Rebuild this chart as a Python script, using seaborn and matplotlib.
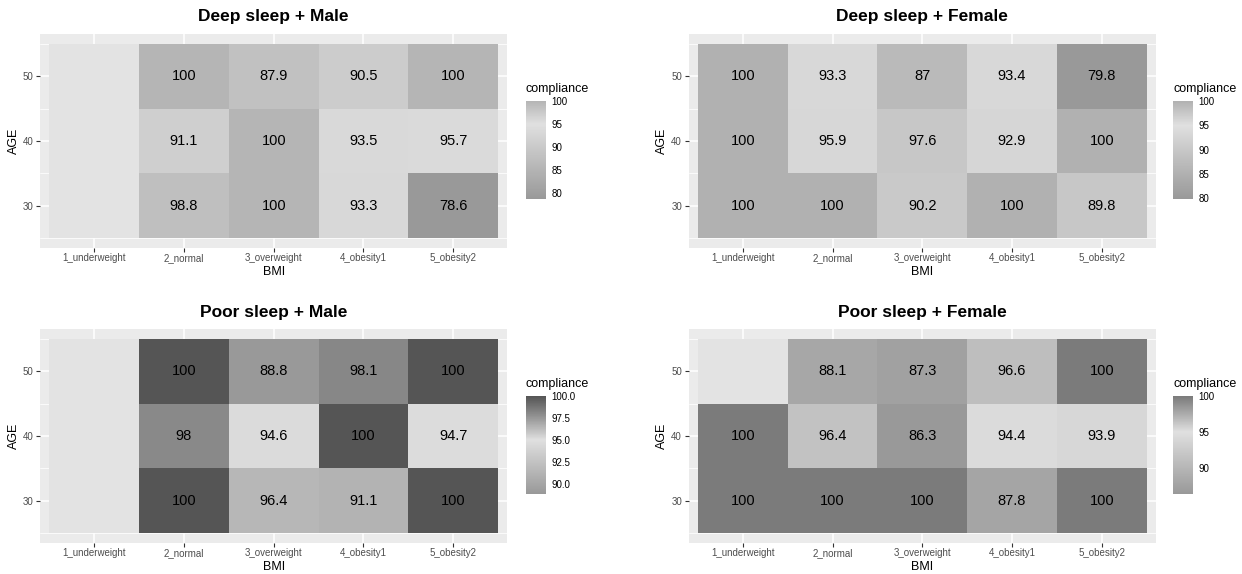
import numpy as np
import pandas as pd
import matplotlib
matplotlib.use('Agg')
import matplotlib.pyplot as plt
import seaborn as sns
from matplotlib.colors import ListedColormap

# ---------------- data ----------------
bmi_levels = ['1_underweight', '2_normal', '3_overweight', '4_obesity1', '5_obesity2']
age_levels = [50, 40, 30]
nan = np.nan

deep_male = [[nan, 100, 87.9, 90.5, 100],
             [nan, 91.1, 100, 93.5, 95.7],
             [nan, 98.8, 100, 93.3, 78.6]]
deep_female = [[100, 93.3, 87, 93.4, 79.8],
               [100, 95.9, 97.6, 92.9, 100],
               [100, 100, 90.2, 100, 89.8]]
poor_male = [[nan, 100, 88.8, 98.1, 100],
             [nan, 98, 94.6, 100, 94.7],
             [nan, 100, 96.4, 91.1, 100]]
poor_female = [[nan, 88.1, 87.3, 96.6, 100],
               [100, 96.4, 86.3, 94.4, 93.9],
               [100, 100, 100, 87.8, 100]]

titles = ['Deep sleep + Male', 'Deep sleep + Female', 'Poor sleep + Male', 'Poor sleep + Female']

ticks_deep_male = [80, 85, 90, 95, 100]
labels_deep_male = ['80', '85', '90', '95', '100']
ticks_deep_female = [80, 85, 90, 95, 100]
labels_deep_female = ['80', '85', '90', '95', '100']
ticks_poor_male = [90, 92.5, 95, 97.5, 100]
labels_poor_male = ['90.0', '92.5', '95.0', '97.5', '100.0']
ticks_poor_female = [90, 95, 100]
labels_poor_female = ['90', '95', '100']

# ---------------- style ----------------
sns.set_theme(style='white')
plt.rcParams['font.family'] = ['Liberation Sans', 'DejaVu Sans']

W, H = 1242, 574
fig = plt.figure(figsize=(W / 100, H / 100), dpi=100)


def fx(px):
    return px / W


def fy(py):
    return 1 - py / H


def srgb_to_L(v):
    c = v / 255.0
    lin = ((c + 0.055) / 1.055) ** 2.4 if c > 0.04045 else c / 12.92
    return 116 * lin ** (1 / 3) - 16 if lin > 0.008856 else 903.3 * lin


def L_to_srgb(L):
    lin = ((L + 16) / 116) ** 3 if L > 8 else L / 903.3
    c = 1.055 * lin ** (1 / 2.4) - 0.055 if lin > 0.0031308 else 12.92 * lin
    return min(max(c, 0.0), 1.0)


LOW, MID = 0x99, 0xE0
HIGH_DEEP, HIGH_POOR = 0x59, 0x38
MIDPOINT = 95.0
NA_COLOR = '#e3e3e3'
PANEL_BG = '#ebebeb'


def gradient2_cmap(vmin, vmax, high, n=256):
    Ll, Lm, Lh = srgb_to_L(LOW), srgb_to_L(MID), srgb_to_L(high)
    r = max(vmax - MIDPOINT, MIDPOINT - vmin)
    cols = []
    for x in np.linspace(vmin, vmax, n):
        p = 0.5 + (x - MIDPOINT) / (2 * r)
        if p < 0.5:
            t = (0.5 - p) / 0.5
            L = Lm + (Ll - Lm) * t
        else:
            t = (p - 0.5) / 0.5
            L = Lm + (Lh - Lm) * t
        g = L_to_srgb(L)
        cols.append((g, g, g))
    return ListedColormap(cols)


PW, PH = 466.6, 214.0
CBW, CBH = 20.0, 98.0


def draw_panel(vals, title, ticks, ticklabels, high, left, top, cb_left, cb_top, age_x):
    df = pd.DataFrame(vals, index=age_levels, columns=bmi_levels)
    arr = df.to_numpy(dtype=float)
    vmin, vmax = np.nanmin(arr), np.nanmax(arr)
    annot = np.array([['' if np.isnan(v) else '%g' % v for v in row] for row in arr])

    ax = fig.add_axes([fx(left), fy(top + PH), PW / W, PH / H])
    cax = fig.add_axes([fx(cb_left), fy(cb_top + CBH), CBW / W, CBH / H])
    ax.set_facecolor(PANEL_BG)

    sns.heatmap(df, ax=ax, cmap=gradient2_cmap(vmin, vmax, high), vmin=vmin, vmax=vmax,
                annot=annot, fmt='', annot_kws={'color': 'black', 'fontsize': 10.5},
                cbar=True, cbar_ax=cax, linewidths=0)
    na_df = pd.DataFrame(np.where(np.isnan(arr), 1.0, np.nan), index=age_levels, columns=bmi_levels)
    sns.heatmap(na_df, ax=ax, cmap=ListedColormap([NA_COLOR]), cbar=False, linewidths=0)

    ax.set_xlim(-0.1, 5.1)
    ax.set_ylim(3.15, -0.15)
    for s in ax.spines.values():
        s.set_visible(False)
    # ggplot-like grid lines beneath tiles
    for xv in np.arange(5) + 0.5:
        ax.axvline(xv, color='white', lw=1.1, zorder=0.5)
    for yv in np.arange(3) + 0.5:
        ax.axhline(yv, color='white', lw=1.1, zorder=0.5)
    for yv in range(4):
        ax.axhline(yv, color='white', lw=0.55, zorder=0.5)

    ax.set_xticks(np.arange(5) + 0.5)
    ax.set_xticklabels(bmi_levels, rotation=0)
    ax.set_yticks(np.arange(3) + 0.5)
    ax.set_yticklabels([str(a) for a in age_levels], rotation=0)
    ax.tick_params(axis='both', which='major', length=3, width=0.8, color='#333333',
                   labelsize=7, labelcolor='#4d4d4d', bottom=True, left=True)
    ax.tick_params(axis='x', pad=6.7)
    ax.tick_params(axis='y', pad=2)
    for lab in ax.get_xticklabels():
        lab.set_verticalalignment('baseline')
    for lab in ax.get_yticklabels():
        lab.set_verticalalignment('center_baseline')
    ax.set_xlabel('')
    ax.set_ylabel('')

    fig.text(fx(left + PW / 2), fy(top - 17), title, ha='center', va='center',
             fontsize=12.5, fontweight='bold', color='black')
    fig.text(fx(left + PW / 2), fy(top + PH + 24), 'BMI', ha='center', va='center',
             fontsize=9, color='black')
    fig.text(fx(age_x), fy(top + PH / 2), 'AGE', ha='center', va='center',
             rotation=90, fontsize=9, color='black')

    cbar = ax.collections[0].colorbar
    cbar.outline.set_visible(False)
    cbar.set_ticks(ticks)
    cbar.set_ticklabels(ticklabels)
    cax.tick_params(axis='y', direction='in', length=4, width=0.8, color='white',
                    left=True, right=True, labelleft=False, labelright=True,
                    labelsize=7, labelcolor='black', pad=4)
    fig.text(fx(cb_left), fy(cb_top - 12), 'compliance', ha='left', va='center',
             fontsize=9, color='black')


draw_panel(deep_male, titles[0], ticks_deep_male, labels_deep_male, HIGH_DEEP,
           40.4, 34, 526, 101, 14)
draw_panel(deep_female, titles[1], ticks_deep_female, labels_deep_female, HIGH_DEEP,
           689, 34, 1173, 101, 662)
draw_panel(poor_male, titles[2], ticks_poor_male, labels_poor_male, HIGH_POOR,
           40.4, 329, 526, 396, 14)
draw_panel(poor_female, titles[3], ticks_poor_female, labels_poor_female, HIGH_POOR,
           689, 329, 1173, 396, 662)

fig.savefig('out.png', dpi=100, facecolor='white')
